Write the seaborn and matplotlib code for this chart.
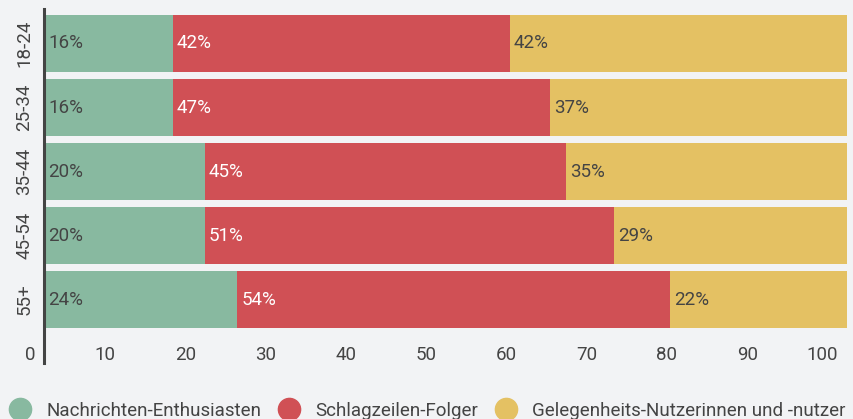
import matplotlib.pyplot as plt
import matplotlib.transforms as mtransforms
from matplotlib.lines import Line2D
import numpy as np
import pandas as pd
import seaborn as sns

# Daten
altersgruppen = ['18-24', '25-34', '35-44', '45-54', '55+']
enthusiasten = [16, 16, 20, 20, 24]
schlagzeilen = [42, 47, 45, 51, 54]
gelegenheit = [42, 37, 35, 29, 22]
serien = ['Nachrichten-Enthusiasten', 'Schlagzeilen-Folger', 'Gelegenheits-Nutzerinnen und -nutzer']
farben = ['#88b9a0', '#d05055', '#e4c163']
x_ticks = [0, 10, 20, 30, 40, 50, 60, 70, 80, 90, 100]

bg = '#f2f3f5'
text_dark = '#444444'
fs = 13.5

sns.set_theme(style='white')
plt.rcParams['font.family'] = ['Roboto', 'DejaVu Sans']

df = pd.DataFrame({'alter': altersgruppen,
                   'g': enthusiasten, 'r': schlagzeilen, 'y': gelegenheit})
df['cum_g'] = df['g']
df['cum_r'] = df['g'] + df['r']
df['cum_y'] = df['g'] + df['r'] + df['y']

fig = plt.figure(figsize=(8.54, 4.19), dpi=100, facecolor=bg)
# axes von x=44 bis 847, y=9 bis 363 (pixel von oben)
ax = fig.add_axes([44.5 / 854, (419 - 363) / 419, (847 - 44.5) / 854, (363 - 9) / 419])
ax.set_facecolor(bg)

# gestapelte balken: von hinten nach vorne zeichnen
for col, farbe in zip(['cum_y', 'cum_r', 'cum_g'], farben[::-1]):
    sns.barplot(data=df, x=col, y='alter', orient='h', color=farbe,
                width=0.89, saturation=1, linewidth=0, ax=ax)

ax.set_xlim(0, 100)
ax.set_ylim(4.992, -0.539)
ax.set_xlabel('')
ax.set_ylabel('')

# Prozentwerte
for i in range(len(altersgruppen)):
    ax.annotate(f'{enthusiasten[i]}%', (0, i), xytext=(4, 0), textcoords='offset pixels',
                ha='left', va='center', fontsize=fs, color=text_dark)
    ax.annotate(f'{schlagzeilen[i]}%', (enthusiasten[i], i), xytext=(4, 0), textcoords='offset pixels',
                ha='left', va='center', fontsize=fs, color='white')
    ax.annotate(f'{gelegenheit[i]}%', (enthusiasten[i] + schlagzeilen[i], i), xytext=(4, 0),
                textcoords='offset pixels', ha='left', va='center', fontsize=fs, color=text_dark)

# Achsen
for s in ['top', 'right', 'bottom']:
    ax.spines[s].set_visible(False)
ax.spines['left'].set_color(text_dark)
ax.spines['left'].set_linewidth(2.2)

ax.set_xticks(x_ticks)
ax.set_xticklabels([str(t) for t in x_ticks])
ax.tick_params(axis='x', length=0, pad=-12, labelsize=fs, labelcolor=text_dark)
ax.tick_params(axis='y', length=0, pad=8, labelsize=fs, labelcolor=text_dark)
verschiebung = mtransforms.ScaledTranslation(-9 / 100, 0, fig.dpi_scale_trans)
for lab in ax.get_xticklabels():
    lab.set_ha('right')
    lab.set_transform(lab.get_transform() + verschiebung)
for lab in ax.get_yticklabels():
    lab.set_rotation(90)
    lab.set_va('center')

# Legende
handles = [Line2D([], [], marker='o', linestyle='', markersize=16, markerfacecolor=f,
                  markeredgecolor=f) for f in farben]
fig.legend(handles, serien, loc='center left', bbox_to_anchor=(9 / 854, 8 / 419),
           ncol=3, frameon=False, fontsize=fs, handlelength=1.2, handletextpad=0.82,
           columnspacing=0.85, borderpad=0, borderaxespad=0, labelcolor=text_dark)

fig.savefig('out.png', dpi=100, facecolor=bg)
